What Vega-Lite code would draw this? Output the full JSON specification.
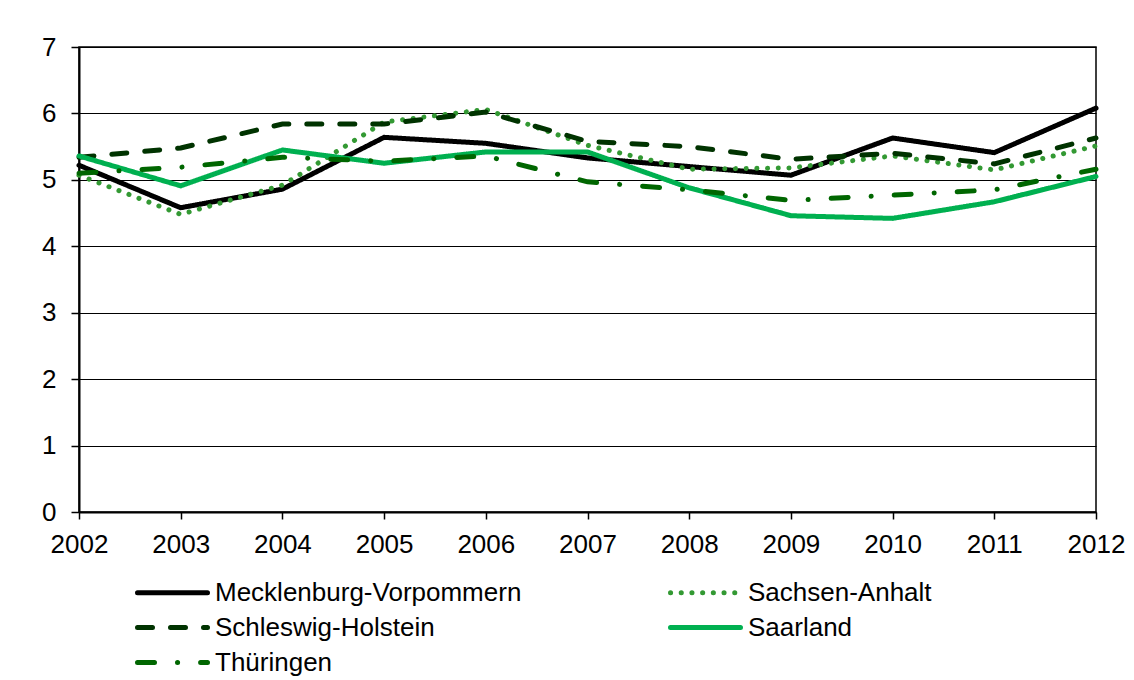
{
  "$schema": "https://vega.github.io/schema/vega-lite/v6.json",
  "autosize": {"type": "none"},
  "padding": {"left": 79, "top": 47, "right": 38, "bottom": 168},
  "width": 1017,
  "height": 465,
  "background": "white",
  "config": {
    "font": "Liberation Sans",
    "view": {"stroke": "black", "strokeWidth": 1.5},
    "axis": {
      "labelFont": "Liberation Sans",
      "labelFontSize": 26,
      "labelColor": "black",
      "domainColor": "black",
      "domainWidth": 2,
      "tickColor": "black",
      "tickWidth": 1.5,
      "gridColor": "black",
      "gridWidth": 1,
      "title": null
    },
    "legend": {
      "labelFont": "Liberation Sans",
      "labelFontSize": 26,
      "labelColor": "black",
      "labelLimit": 0
    }
  },
  "data": {
    "values": [
      {"year": 2002, "land": "Mecklenburg-Vorpommern", "v": 5.22},
      {"year": 2003, "land": "Mecklenburg-Vorpommern", "v": 4.58},
      {"year": 2004, "land": "Mecklenburg-Vorpommern", "v": 4.86},
      {"year": 2005, "land": "Mecklenburg-Vorpommern", "v": 5.64},
      {"year": 2006, "land": "Mecklenburg-Vorpommern", "v": 5.55},
      {"year": 2007, "land": "Mecklenburg-Vorpommern", "v": 5.33},
      {"year": 2008, "land": "Mecklenburg-Vorpommern", "v": 5.2},
      {"year": 2009, "land": "Mecklenburg-Vorpommern", "v": 5.07},
      {"year": 2010, "land": "Mecklenburg-Vorpommern", "v": 5.63},
      {"year": 2011, "land": "Mecklenburg-Vorpommern", "v": 5.41},
      {"year": 2012, "land": "Mecklenburg-Vorpommern", "v": 6.08},
      {"year": 2002, "land": "Sachsen-Anhalt", "v": 5.07},
      {"year": 2003, "land": "Sachsen-Anhalt", "v": 4.48},
      {"year": 2004, "land": "Sachsen-Anhalt", "v": 4.92},
      {"year": 2005, "land": "Sachsen-Anhalt", "v": 5.87},
      {"year": 2006, "land": "Sachsen-Anhalt", "v": 6.06},
      {"year": 2007, "land": "Sachsen-Anhalt", "v": 5.52},
      {"year": 2008, "land": "Sachsen-Anhalt", "v": 5.16},
      {"year": 2009, "land": "Sachsen-Anhalt", "v": 5.18},
      {"year": 2010, "land": "Sachsen-Anhalt", "v": 5.36},
      {"year": 2011, "land": "Sachsen-Anhalt", "v": 5.15},
      {"year": 2012, "land": "Sachsen-Anhalt", "v": 5.51},
      {"year": 2002, "land": "Schleswig-Holstein", "v": 5.34},
      {"year": 2003, "land": "Schleswig-Holstein", "v": 5.48},
      {"year": 2004, "land": "Schleswig-Holstein", "v": 5.84},
      {"year": 2005, "land": "Schleswig-Holstein", "v": 5.84},
      {"year": 2006, "land": "Schleswig-Holstein", "v": 6.02},
      {"year": 2007, "land": "Schleswig-Holstein", "v": 5.58},
      {"year": 2008, "land": "Schleswig-Holstein", "v": 5.5},
      {"year": 2009, "land": "Schleswig-Holstein", "v": 5.31},
      {"year": 2010, "land": "Schleswig-Holstein", "v": 5.4},
      {"year": 2011, "land": "Schleswig-Holstein", "v": 5.24},
      {"year": 2012, "land": "Schleswig-Holstein", "v": 5.63},
      {"year": 2002, "land": "Saarland", "v": 5.36},
      {"year": 2003, "land": "Saarland", "v": 4.91},
      {"year": 2004, "land": "Saarland", "v": 5.45},
      {"year": 2005, "land": "Saarland", "v": 5.25},
      {"year": 2006, "land": "Saarland", "v": 5.42},
      {"year": 2007, "land": "Saarland", "v": 5.42},
      {"year": 2008, "land": "Saarland", "v": 4.88},
      {"year": 2009, "land": "Saarland", "v": 4.46},
      {"year": 2010, "land": "Saarland", "v": 4.42},
      {"year": 2011, "land": "Saarland", "v": 4.67},
      {"year": 2012, "land": "Saarland", "v": 5.05},
      {"year": 2002, "land": "Thüringen", "v": 5.1},
      {"year": 2003, "land": "Thüringen", "v": 5.19},
      {"year": 2004, "land": "Thüringen", "v": 5.34},
      {"year": 2005, "land": "Thüringen", "v": 5.28},
      {"year": 2006, "land": "Thüringen", "v": 5.36},
      {"year": 2007, "land": "Thüringen", "v": 4.97},
      {"year": 2008, "land": "Thüringen", "v": 4.85},
      {"year": 2009, "land": "Thüringen", "v": 4.69},
      {"year": 2010, "land": "Thüringen", "v": 4.77},
      {"year": 2011, "land": "Thüringen", "v": 4.85},
      {"year": 2012, "land": "Thüringen", "v": 5.16}
    ]
  },
  "mark": {"type": "line", "strokeWidth": 5, "strokeCap": "round", "strokeJoin": "miter"},
  "encoding": {
    "x": {
      "field": "year",
      "type": "ordinal",
      "scale": {"type": "point", "padding": 0},
      "axis": {"labelAngle": 0, "tickSize": 7, "labelPadding": 12, "grid": false, "domain": true}
    },
    "y": {
      "field": "v",
      "type": "quantitative",
      "scale": {"domain": [0, 7], "nice": false},
      "axis": {"values": [0, 1, 2, 3, 4, 5, 6, 7], "tickSize": 8, "labelPadding": 15, "grid": true, "domain": true}
    },
    "color": {
      "field": "land",
      "type": "nominal",
      "title": null,
      "sort": ["Mecklenburg-Vorpommern", "Schleswig-Holstein", "Thüringen", "Sachsen-Anhalt", "Saarland"],
      "scale": {
        "domain": ["Mecklenburg-Vorpommern", "Schleswig-Holstein", "Thüringen", "Sachsen-Anhalt", "Saarland"],
        "range": ["#000000", "#003300", "#006600", "#339933", "#00b050"]
      },
      "legend": {
        "orient": "none",
        "legendX": 42,
        "legendY": 529,
        "columns": 2,
        "columnPadding": 132,
        "rowPadding": 5,
        "symbolType": "M0,0H5",
        "symbolSize": 784,
        "symbolStrokeWidth": 5,
        "labelOffset": 61,
        "labelFontSize": 26,
        "encode": {"symbols": {"update": {"strokeCap": {"value": "round"}}}}
      }
    },
    "strokeDash": {
      "field": "land",
      "type": "nominal",
      "title": null,
      "sort": ["Mecklenburg-Vorpommern", "Schleswig-Holstein", "Thüringen", "Sachsen-Anhalt", "Saarland"],
      "scale": {
        "domain": ["Mecklenburg-Vorpommern", "Schleswig-Holstein", "Thüringen", "Sachsen-Anhalt", "Saarland"],
        "range": [[1, 0], [15, 18], [17, 23, 0.1, 23], [0.1, 10.6], [1, 0]]
      }
    },
    "order": {"field": "year"}
  }
}
